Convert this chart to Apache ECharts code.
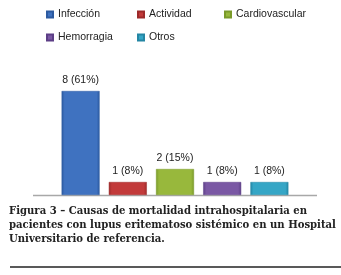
<!DOCTYPE html>
<html>
<head>
<meta charset="utf-8">
<script src="https://cdn.jsdelivr.net/npm/echarts@6/dist/echarts.min.js"></script>
<style>html,body{margin:0;padding:0;background:#fff}#c{width:341px;height:275px}</style>
</head>
<body>
<div id="c"></div>
<script>
var categories = ['Infección', 'Actividad', 'Cardiovascular', 'Hemorragia', 'Otros'];
var counts = [8, 1, 2, 1, 1];
var percents = ['61%', '8%', '15%', '8%', '8%'];
var colors = ['#3f72c0', '#c23a3a', '#98b83c', '#7a58a4', '#35a6c6'];
var darkColors = ['#2c5aa0', '#9c2a2a', '#7a9a2a', '#5c3e86', '#2486a4'];
var legendPos = [[46, 9], [137, 9], [224, 9], [46, 32], [137, 32]];
var caption = 'Figura 3 – Causas de mortalidad intrahospitalaria en\npacientes con lupus eritematoso sistémico en un Hospital\nUniversitario de referencia.';

var chart = echarts.init(document.getElementById('c'), null, {renderer: 'canvas'});
var series = categories.map(function (name, i) {
  var data = categories.map(function (_, j) { return j === i ? counts[j] : null; });
  return {
    name: name,
    type: 'bar',
    data: data,
    barWidth: 38,
    barGap: '-100%',
    itemStyle: {
      color: new echarts.graphic.LinearGradient(0, 0, 1, 0, [
        {offset: 0, color: darkColors[i]},
        {offset: 0.08, color: colors[i]},
        {offset: 0.92, color: colors[i]},
        {offset: 1, color: darkColors[i]}
      ]),
      borderColor: darkColors[i],
      borderWidth: 0.5
    },
    label: {
      show: true,
      position: 'top',
      distance: 5,
      fontFamily: 'Liberation Sans, Arial, sans-serif',
      fontSize: 10.5,
      color: '#222',
      formatter: function (p) { return p.value + ' (' + percents[p.dataIndex] + ')'; }
    }
  };
});
var legends = categories.map(function (name, i) {
  return {
    data: [name],
    left: legendPos[i][0],
    top: legendPos[i][1],
    padding: 0,
    icon: 'rect',
    itemWidth: 6,
    itemHeight: 6,
    selectedMode: false,
    textStyle: {fontFamily: 'Liberation Sans, Arial, sans-serif', fontSize: 10.5, color: '#222'}
  };
});
chart.setOption({
  animation: false,
  color: colors,
  title: {
    text: caption,
    left: 9,
    top: 204,
    padding: 0,
    textStyle: {fontFamily: 'DejaVu Serif Condensed, serif', fontWeight: 'bold', fontSize: 11.2, lineHeight: 14, color: '#222'}
  },
  legend: legends,
  grid: {left: 57, right: 48, top: 65, bottom: 80},
  xAxis: {type: 'category', data: categories, show: false},
  yAxis: {type: 'value', min: 0, max: 10, show: false},
  series: series,
  graphic: [
    {type: 'line', z: -1, shape: {x1: 33, y1: 195.5, x2: 317, y2: 195.5}, style: {stroke: '#a8a8a8', lineWidth: 1.5}},
    {type: 'line', shape: {x1: 10, y1: 267, x2: 341, y2: 267}, style: {stroke: '#222', lineWidth: 1.3}}
  ]
});
</script>
</body>
</html>
